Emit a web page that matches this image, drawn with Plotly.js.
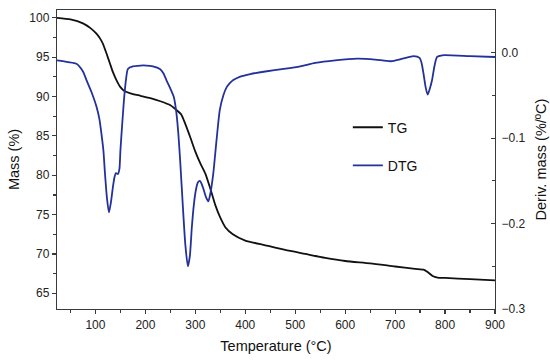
<!DOCTYPE html>
<html>
<head>
<meta charset="utf-8">
<script src="https://cdn.plot.ly/plotly-3.0.1.min.js"></script>
<style>html,body{margin:0;padding:0;background:#fff}#chart{width:550px;height:364px}</style>
</head>
<body>
<div id="chart"></div>
<script>
// TG curve (mass %, left axis)
var tempTG = [23, 50, 75, 90, 102, 110, 115, 122, 129, 135, 142, 150, 158, 170, 190, 210, 230, 250, 262, 272, 280, 290, 300, 310, 320, 330, 340, 350, 360, 375, 400, 440, 480, 520, 560, 600, 650, 700, 740, 757, 765, 775, 785, 800, 850, 900];
var massTG = [100, 99.8, 99.3, 98.7, 98.0, 97.3, 96.7, 95.5, 94.2, 93.1, 92.1, 91.2, 90.7, 90.4, 90.1, 89.8, 89.4, 88.9, 88.3, 87.7, 86.5, 84.8, 83.0, 81.5, 80.2, 78.3, 76.2, 74.6, 73.4, 72.5, 71.7, 71.1, 70.5, 70.0, 69.5, 69.1, 68.8, 68.4, 68.1, 68.0, 67.7, 67.2, 67.0, 66.95, 66.8, 66.65];

// DTG curve (deriv. mass %/ºC, right axis)
var tempDTG = [23, 45, 62, 75, 82, 92, 102, 108, 112, 116, 119, 123, 127, 131, 135, 138, 141, 145, 148, 150, 154, 157, 161, 165, 175, 190, 202, 215, 229, 236, 242, 250, 257, 262, 266, 270, 275, 280, 285, 289, 293, 297, 301, 305, 309, 313, 317, 322, 326, 330, 336, 342, 349, 356, 363, 370, 376, 390, 410, 440, 477, 510, 540, 580, 624, 660, 691, 715, 737, 749, 753, 757, 761, 765, 769, 774, 779, 784, 794, 850, 900];
var derivDTG = [-0.009, -0.011, -0.013, -0.022, -0.032, -0.046, -0.063, -0.078, -0.095, -0.115, -0.141, -0.170, -0.187, -0.175, -0.157, -0.146, -0.141, -0.142, -0.136, -0.114, -0.080, -0.056, -0.032, -0.019, -0.016, -0.015, -0.015, -0.016, -0.019, -0.024, -0.032, -0.042, -0.052, -0.070, -0.095, -0.130, -0.180, -0.225, -0.250, -0.238, -0.204, -0.178, -0.161, -0.152, -0.150, -0.154, -0.161, -0.170, -0.174, -0.165, -0.141, -0.105, -0.067, -0.050, -0.040, -0.035, -0.032, -0.028, -0.025, -0.022, -0.019, -0.016, -0.012, -0.009, -0.007, -0.008, -0.010, -0.007, -0.004, -0.006, -0.012, -0.025, -0.040, -0.049, -0.043, -0.032, -0.015, -0.005, -0.003, -0.004, -0.005];

var seriesNames = ['TG', 'DTG'];
var xTitle = 'Temperature (°C)';
var yTitle = 'Mass (%)';
var y2Title = 'Deriv. mass (%/ºC)';

var FONT = 'Liberation Sans, Arial, sans-serif';
var axisCol = '#3a3a3a';

var traces = [
  {x: tempTG, y: massTG, name: seriesNames[0], type: 'scatter', mode: 'lines',
   line: {color: '#111111', width: 1.8, shape: 'spline', smoothing: 0.6}, legendgroup: 'a'},
  {x: tempDTG, y: derivDTG, name: seriesNames[1], type: 'scatter', mode: 'lines', yaxis: 'y2',
   line: {color: '#23319a', width: 1.8, shape: 'spline', smoothing: 0.6}, legendgroup: 'b'}
];

var layout = {
  width: 550, height: 364,
  margin: {l: 57, r: 55, t: 10, b: 55},
  paper_bgcolor: '#fff', plot_bgcolor: '#fff',
  font: {family: FONT, size: 12, color: '#222'},
  showlegend: true,
  legend: {x: 0.664, y: 0.66, xanchor: 'left', yanchor: 'top', bgcolor: 'rgba(0,0,0,0)',
           font: {family: FONT, size: 14, color: '#111'}, traceorder: 'grouped', tracegroupgap: 17},
  xaxis: {
    range: [23, 900], showgrid: false, zeroline: false, showline: true, linecolor: axisCol, linewidth: 1.2,
    mirror: true, ticks: 'outside', ticklen: 4, tickcolor: axisCol, tickwidth: 1.2,
    tickmode: 'linear', tick0: 100, dtick: 100,
    minor: {ticks: 'outside', ticklen: 3, tickcolor: axisCol, dtick: 50, tick0: 50},
    tickfont: {family: FONT, size: 12, color: '#222'},
    title: {text: xTitle, font: {family: FONT, size: 14.5, color: '#111'}, standoff: 10}
  },
  yaxis: {
    range: [63, 101], showgrid: false, zeroline: false, showline: true, linecolor: axisCol, linewidth: 1.2,
    ticks: 'outside', ticklen: 4, tickcolor: axisCol, tickwidth: 1.2,
    tickmode: 'linear', tick0: 65, dtick: 5,
    minor: {ticks: 'outside', ticklen: 3, tickcolor: axisCol, dtick: 2.5, tick0: 62.5},
    tickfont: {family: FONT, size: 12, color: '#222'},
    title: {text: yTitle, font: {family: FONT, size: 14.5, color: '#111'}, standoff: 6}
  },
  yaxis2: {
    overlaying: 'y', side: 'right', range: [-0.3, 0.05], showgrid: false, zeroline: false,
    showline: true, linecolor: axisCol, linewidth: 1.2,
    ticks: 'inside', ticklen: 4, tickcolor: axisCol, tickwidth: 1.2,
    tickmode: 'linear', tick0: -0.3, dtick: 0.1, tickformat: '.1f', ticklabelstandoff: 3,
    minor: {ticks: 'inside', ticklen: 3, tickcolor: axisCol, dtick: 0.05, tick0: -0.3},
    tickfont: {family: FONT, size: 12, color: '#222'},
    title: {text: y2Title, font: {family: FONT, size: 14.5, color: '#111'}, standoff: 11}
  }
};

Plotly.newPlot('chart', traces, layout, {displayModeBar: false, staticPlot: true});
</script>
</body>
</html>
